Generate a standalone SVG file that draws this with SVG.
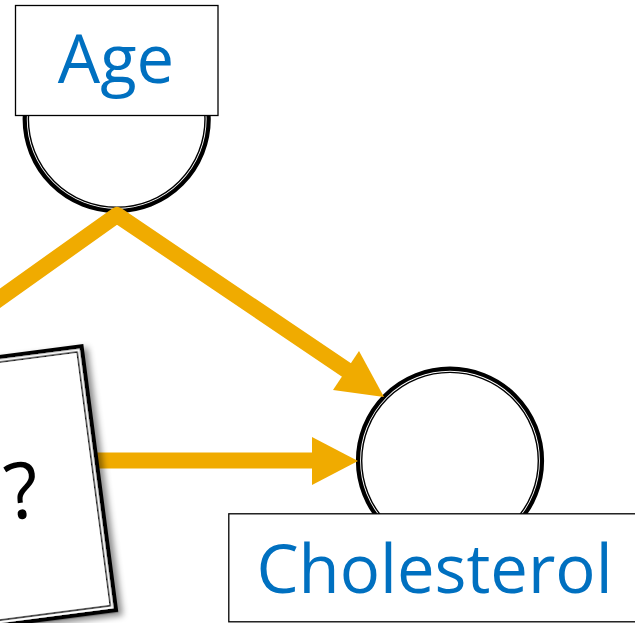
<svg xmlns="http://www.w3.org/2000/svg" width="635" height="623" viewBox="0 0 635 623">
<defs>
<style>
.outer{fill:#fff;stroke:#000;stroke-width:4.2}
.inner{fill:none;stroke:#000;stroke-width:1.4}
.label{fill:#fff;stroke:#000;stroke-width:1.3}
.lt{font-family:"Open Sans","Noto Sans",sans-serif;font-size:67px;fill:#0070C0;text-anchor:middle}
.q{font-family:"Open Sans","Noto Sans",sans-serif;font-size:78px;fill:#000;text-anchor:middle}
.conn{fill:none;stroke:#F0AB00;stroke-width:16;stroke-linejoin:round}
.head{fill:#F0AB00}
</style>
<filter id="sh" x="-20%" y="-20%" width="140%" height="140%">
<feDropShadow dx="4" dy="4" stdDeviation="3" flood-color="#000" flood-opacity="0.45"/>
</filter>
</defs>
<rect width="635" height="623" fill="#fff"/>
<g id="node-age">
<circle class="outer" cx="116.7" cy="119" r="92"/>
<circle class="inner" cx="116.7" cy="119" r="88.3"/>
<rect class="label" x="15.5" y="5.5" width="202.5" height="110"/>
<text class="lt" x="116" y="83">Age</text>
</g>
<g id="node-cholesterol">
<circle class="outer" cx="450" cy="460.7" r="92"/>
<circle class="inner" cx="450" cy="460.7" r="88.3"/>
<rect class="label" x="228.8" y="513.8" width="420" height="108"/>
<text class="lt" x="434.5" y="593">Cholesterol</text>
</g>
<g id="connectors">
<polyline class="conn" points="-25,316 117,215 348,371"/>
<polygon class="head" points="359,351 384,397 333,390"/>
<line class="conn" x1="60" y1="460.5" x2="314" y2="460.5"/>
<polygon class="head" points="312,437 358,461 312,485"/>
</g>
<g id="node-unknown">
<g transform="translate(83.3,344) rotate(-7.44)" filter="url(#sh)">
<rect x="-320" y="2.1" width="317.9" height="266" fill="#fff" stroke="#000" stroke-width="4.2"/>
<rect x="-320" y="7.2" width="312.8" height="255.8" fill="none" stroke="#000" stroke-width="1.4"/>
</g>
<text class="q" x="22" y="518" font-weight="500" transform="rotate(-7.44 22 490)">?</text>
</g>
</svg>
